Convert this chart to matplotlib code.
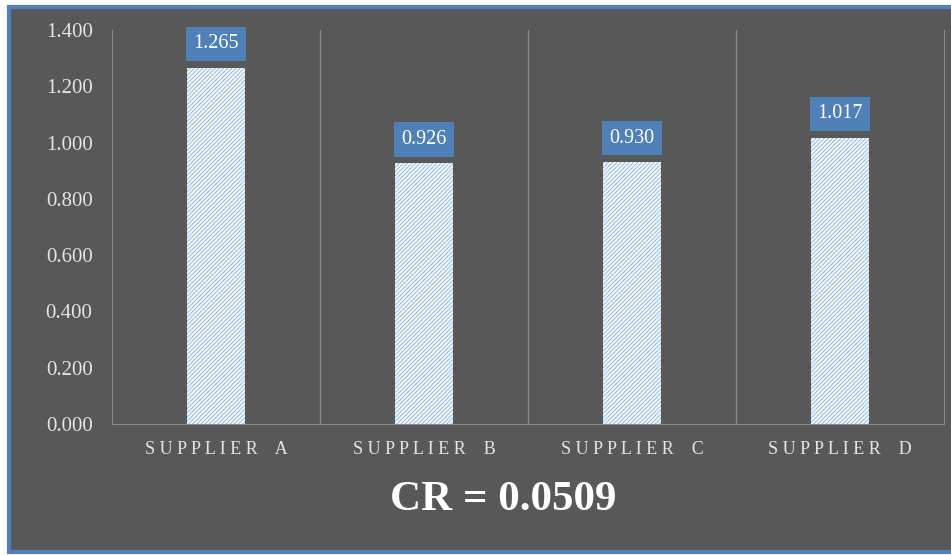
import matplotlib.pyplot as plt
from matplotlib.patches import Rectangle

# data
suppliers = ['SUPPLIER A', 'SUPPLIER B', 'SUPPLIER C', 'SUPPLIER D']
weights = [1.265, 0.926, 0.930, 1.017]
yticks = [0.0, 0.2, 0.4, 0.6, 0.8, 1.0, 1.2, 1.4]
cr_text = 'CR = 0.0509'

bg = '#585858'
txt = '#e4e4e4'
blue = '#4f80b8'

plt.rcParams['font.family'] = ['Liberation Serif', 'DejaVu Serif']
plt.rcParams['hatch.color'] = '#93b8dc'
plt.rcParams['hatch.linewidth'] = 0.7

fig = plt.figure(figsize=(9.51, 5.55), dpi=100, facecolor='white')
# framed dark panel (open on the right like the reference)
panel = Rectangle((9 / 951, 3 / 555), 960 / 951, 545 / 555,
                  transform=fig.transFigure, facecolor=bg,
                  edgecolor=blue, linewidth=3, zorder=-5)
fig.add_artist(panel)

ax = fig.add_axes([112 / 951, 1 - 424 / 555, 832 / 951, 394 / 555])
ax.set_zorder(1)
ax.set_facecolor(bg)

x = range(len(suppliers))
ax.bar(x, weights, width=0.28, color='#f6f9fc', edgecolor='#93b8dc',
       hatch='////////', linewidth=0, zorder=3)

for xi, v in zip(x, weights):
    ax.annotate('%.3f' % v, (xi, v), xytext=(0, 24), textcoords='offset pixels',
                ha='center', va='center', fontsize=14.5, color='white', zorder=5,
                bbox=dict(boxstyle='square,pad=0.38', facecolor=blue, edgecolor='none'))

ax.set_xlim(-0.5, 3.5)
ax.set_ylim(0, 1.4)
ax.set_yticks(yticks)
ax.set_yticklabels(['%.3f' % t for t in yticks])
ax.set_xticks(list(x))
ax.set_xticklabels([' '.join(s.replace(' ', '  ')).replace('   ', '  ') for s in suppliers])

# category separators
for b in [0.5, 1.5, 2.5]:
    ax.axvline(b, color='#8a8a8a', linewidth=1, zorder=1)

for side in ['left', 'right', 'bottom']:
    ax.spines[side].set_color('#8a8a8a')
ax.spines['top'].set_visible(False)

ax.tick_params(axis='y', length=0, pad=14, labelsize=15, colors=txt)
ax.tick_params(axis='x', length=0, pad=12, labelsize=13, colors=txt)

fig.text(503 / 951, 1 - 500 / 555, cr_text, ha='center', va='center',
         fontsize=31, fontweight='bold', color='white')

fig.savefig('out.png', dpi=100, facecolor=fig.get_facecolor())
